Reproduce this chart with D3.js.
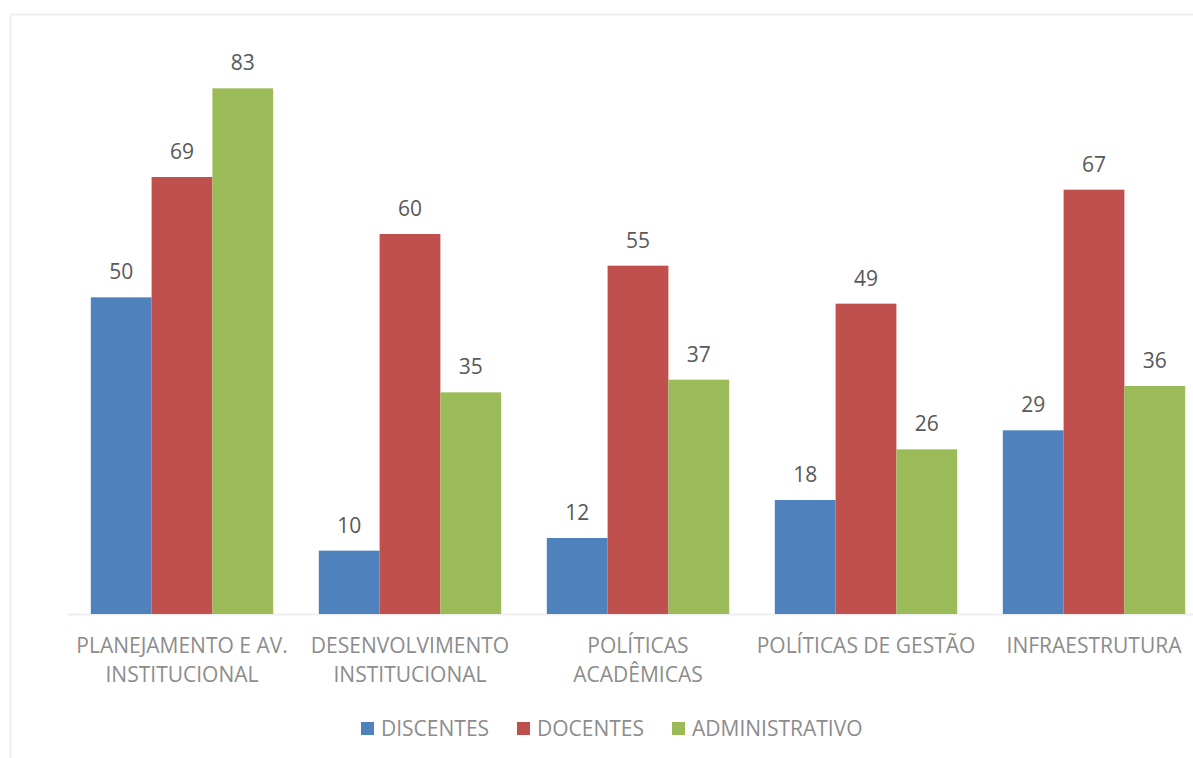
<html>
<head>
    <meta charset="UTF-8" />
    <script src="https://d3js.org/d3.v7.min.js"></script>
    <style>
        body { margin: 0; background: #fff; }
        text { font-family: "Open Sans", sans-serif; }
    </style>
</head>
<body>
<svg id="svg1" width="1193" height="758"></svg>
<script>
    // data
    const categories = ["PLANEJAMENTO E AV. INSTITUCIONAL", "DESENVOLVIMENTO INSTITUCIONAL",
                        "POLÍTICAS ACADÊMICAS", "POLÍTICAS DE GESTÃO", "INFRAESTRUTURA"];
    const categoryLines = [["PLANEJAMENTO E AV.", "INSTITUCIONAL"], ["DESENVOLVIMENTO", "INSTITUCIONAL"],
                           ["POLÍTICAS", "ACADÊMICAS"], ["POLÍTICAS DE GESTÃO"], ["INFRAESTRUTURA"]];
    const seriesNames = ["DISCENTES", "DOCENTES", "ADMINISTRATIVO"];
    const discentes = [50, 10, 12, 18, 29];
    const docentes = [69, 60, 55, 49, 67];
    const administrativo = [83, 35, 37, 26, 36];
    const seriesColors = ["#4F81BD", "#C0504D", "#9BBB59"];

    const series = [discentes, docentes, administrativo];

    const svg1 = d3.select("svg#svg1");

    // light chart-area border
    svg1.append("rect")
        .attr("x", 10.5).attr("y", 14.5)
        .attr("width", 1300).attr("height", 800)
        .attr("fill", "none")
        .attr("stroke", "#f0f0f0")
        .attr("stroke-width", 2);

    const baseline = 614;
    const xScale = d3.scaleBand().domain(categories).range([68, 68 + 228 * 5])
                     .paddingInner(0.2).paddingOuter(0.1);
    const yScale = d3.scaleLinear().domain([0, 90]).range([baseline, 44]);
    const subScale = d3.scaleBand().domain(seriesNames).range([0, xScale.bandwidth()]);

    // axis line
    svg1.append("line")
        .attr("x1", 68).attr("x2", 1193)
        .attr("y1", baseline + 0.5).attr("y2", baseline + 0.5)
        .attr("stroke", "#efefef").attr("stroke-width", 2);

    const groups = svg1.selectAll("g.cat")
        .data(categories)
        .join("g")
        .attr("class", "cat")
        .attr("transform", d => "translate(" + xScale(d) + ",0)");

    groups.selectAll("rect")
        .data((d, i) => seriesNames.map((s, j) => ({s: s, v: series[j][i], c: seriesColors[j]})))
        .join("rect")
        .attr("x", d => subScale(d.s))
        .attr("y", d => yScale(d.v))
        .attr("width", subScale.bandwidth())
        .attr("height", d => baseline - yScale(d.v))
        .attr("fill", d => d.c);

    groups.selectAll("text.val")
        .data((d, i) => seriesNames.map((s, j) => ({s: s, v: series[j][i]})))
        .join("text")
        .attr("class", "val")
        .attr("x", d => subScale(d.s) + subScale.bandwidth() / 2)
        .attr("y", d => yScale(d.v) - 18)
        .attr("text-anchor", "middle")
        .attr("font-size", 21)
        .attr("fill", "#595959")
        .text(d => d.v);

    // category labels
    groups.selectAll("text.lab")
        .data((d, i) => categoryLines[i])
        .join("text")
        .attr("class", "lab")
        .attr("x", xScale.bandwidth() / 2)
        .attr("y", (d, k) => 653 + k * 29)
        .attr("text-anchor", "middle")
        .attr("font-size", 21)
        .attr("fill", "#8c8c8c")
        .text(d => d);

    // legend
    const legendX = [361, 517, 672];
    const legend = svg1.selectAll("g.leg")
        .data(seriesNames)
        .join("g")
        .attr("class", "leg")
        .attr("transform", (d, i) => "translate(" + legendX[i] + ",722)");
    legend.append("rect")
        .attr("width", 13).attr("height", 13)
        .attr("fill", (d, i) => seriesColors[i]);
    legend.append("text")
        .attr("x", 20).attr("y", 14)
        .attr("font-size", 21)
        .attr("fill", "#8c8c8c")
        .text(d => d);
</script>
</body>
</html>
